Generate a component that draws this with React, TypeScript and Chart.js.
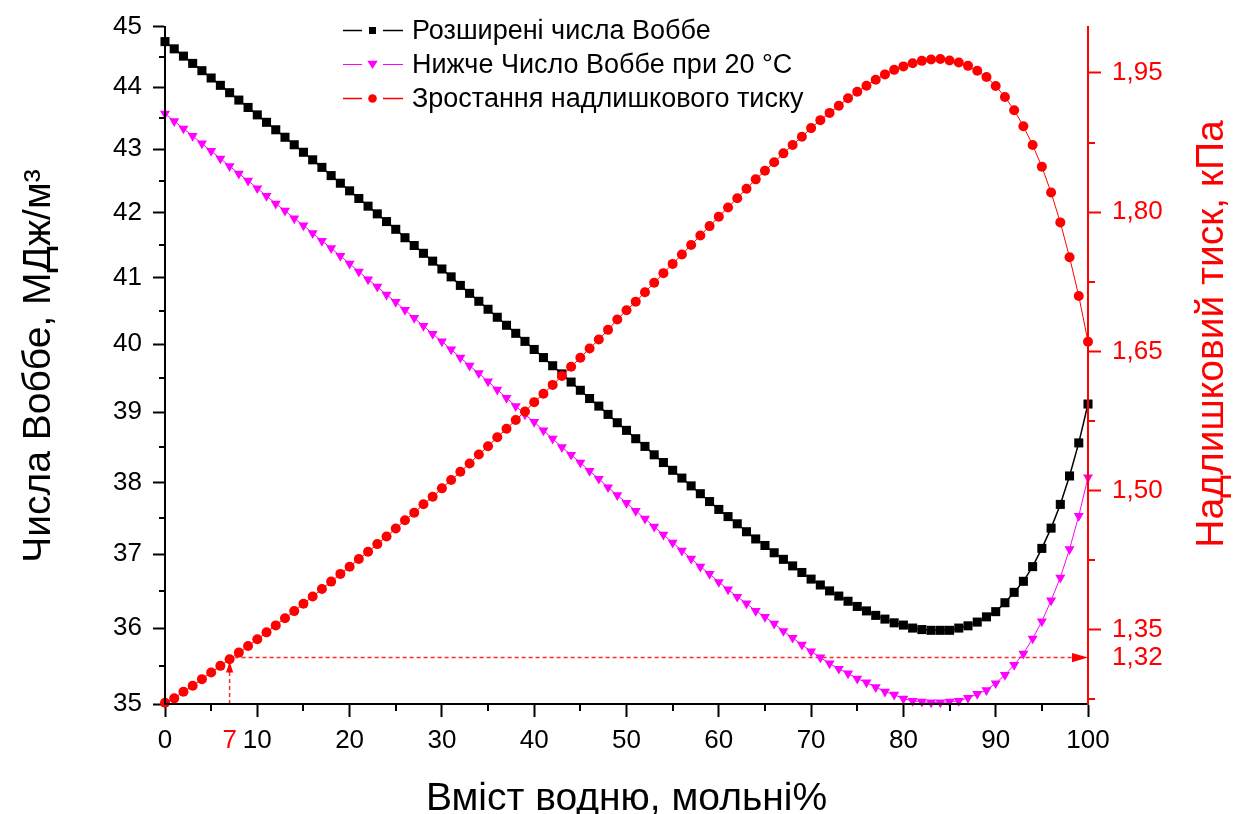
import { useEffect, useRef } from 'react';
import { Chart, registerables } from 'chart.js';
Chart.register(...registerables);

const FONT = '"Liberation Sans", Arial, Helvetica, sans-serif';

// вміст водню, мольні %
const hydrogen = [
  0, 1, 2, 3, 4, 5, 6, 7, 8, 9,
  10, 11, 12, 13, 14, 15, 16, 17, 18, 19,
  20, 21, 22, 23, 24, 25, 26, 27, 28, 29,
  30, 31, 32, 33, 34, 35, 36, 37, 38, 39,
  40, 41, 42, 43, 44, 45, 46, 47, 48, 49,
  50, 51, 52, 53, 54, 55, 56, 57, 58, 59,
  60, 61, 62, 63, 64, 65, 66, 67, 68, 69,
  70, 71, 72, 73, 74, 75, 76, 77, 78, 79,
  80, 81, 82, 83, 84, 85, 86, 87, 88, 89,
  90, 91, 92, 93, 94, 95, 96, 97, 98, 99,
  100,
];

// Розширені числа Воббе, МДж/м3
const wobbeExtended = [
  44.75, 44.63, 44.51, 44.39, 44.27, 44.15, 44.03, 43.91, 43.79, 43.67,
  43.55, 43.43, 43.31, 43.19, 43.07, 42.95, 42.83, 42.71, 42.58, 42.46,
  42.34, 42.22, 42.10, 41.98, 41.86, 41.74, 41.61, 41.49, 41.37, 41.25,
  41.13, 41.01, 40.88, 40.76, 40.64, 40.52, 40.40, 40.28, 40.16, 40.04,
  39.92, 39.80, 39.68, 39.56, 39.44, 39.32, 39.20, 39.09, 38.97, 38.85,
  38.74, 38.62, 38.51, 38.39, 38.28, 38.17, 38.06, 37.95, 37.84, 37.73,
  37.62, 37.52, 37.42, 37.31, 37.21, 37.12, 37.02, 36.93, 36.84, 36.75,
  36.66, 36.58, 36.50, 36.43, 36.36, 36.29, 36.23, 36.17, 36.12, 36.07,
  36.04, 36.00, 35.98, 35.97, 35.97, 35.97, 36.00, 36.03, 36.08, 36.15,
  36.22, 36.34, 36.48, 36.63, 36.83, 37.08, 37.36, 37.69, 38.09, 38.56,
  39.12,
];

// Нижче число Воббе при 20 °C, МДж/м3
const wobbeLower = [
  43.57, 43.45, 43.33, 43.21, 43.09, 42.97, 42.85, 42.73, 42.61, 42.50,
  42.38, 42.26, 42.14, 42.03, 41.91, 41.80, 41.68, 41.56, 41.45, 41.33,
  41.21, 41.09, 40.97, 40.86, 40.74, 40.63, 40.51, 40.39, 40.27, 40.15,
  40.04, 39.92, 39.80, 39.68, 39.57, 39.45, 39.33, 39.21, 39.09, 38.97,
  38.86, 38.74, 38.62, 38.50, 38.39, 38.28, 38.16, 38.05, 37.93, 37.82,
  37.71, 37.60, 37.49, 37.38, 37.27, 37.16, 37.05, 36.94, 36.83, 36.73,
  36.62, 36.52, 36.42, 36.33, 36.23, 36.15, 36.06, 35.96, 35.87, 35.78,
  35.69, 35.61, 35.53, 35.46, 35.40, 35.33, 35.28, 35.22, 35.16, 35.12,
  35.07, 35.04, 35.03, 35.02, 35.02, 35.03, 35.04, 35.08, 35.13, 35.18,
  35.27, 35.38, 35.51, 35.66, 35.86, 36.09, 36.37, 36.68, 37.07, 37.53,
  38.07,
];

// Зростання надлишкового тиску, кПа
const pressureRise = [
  1.2714, 1.2761, 1.2832, 1.2896, 1.2968, 1.3040, 1.3111, 1.3183, 1.3254, 1.3325,
  1.3397, 1.3472, 1.3547, 1.3625, 1.3701, 1.3780, 1.3858, 1.3939, 1.4019, 1.4102,
  1.4180, 1.4262, 1.4341, 1.4423, 1.4505, 1.4591, 1.4681, 1.4762, 1.4852, 1.4934,
  1.5024, 1.5113, 1.5202, 1.5292, 1.5388, 1.5478, 1.5574, 1.5667, 1.5760, 1.5853,
  1.5953, 1.6043, 1.6139, 1.6236, 1.6335, 1.6432, 1.6532, 1.6628, 1.6732, 1.6843,
  1.6943, 1.7036, 1.7137, 1.7239, 1.7343, 1.7443, 1.7544, 1.7647, 1.7748, 1.7850,
  1.7952, 1.8051, 1.8151, 1.8253, 1.8354, 1.8446, 1.8538, 1.8634, 1.8724, 1.8813,
  1.8906, 1.8992, 1.9070, 1.9148, 1.9228, 1.9298, 1.9363, 1.9427, 1.9485, 1.9534,
  1.9571, 1.9606, 1.9631, 1.9646, 1.9651, 1.9635, 1.9614, 1.9577, 1.9524, 1.9456,
  1.9360, 1.9242, 1.9099, 1.8927, 1.8724, 1.8491, 1.8212, 1.7890, 1.7515, 1.7097,
  1.6604,
];

const xTicks = [0, 7, 10, 20, 30, 40, 50, 60, 70, 80, 90, 100];
const xMinor = [5, 15, 25, 35, 45, 55, 65, 75, 85, 95];
const leftTicks = [35, 36, 37, 38, 39, 40, 41, 42, 43, 44, 45];
const leftMinor = [35.5, 36.5, 37.5, 38.5, 39.5, 40.5, 41.5, 42.5, 43.5, 44.5];
const rightTicks = [1.32, 1.35, 1.5, 1.65, 1.8, 1.95];
const rightMinor = [1.275, 1.425, 1.575, 1.725, 1.875];

// точка 7 % -> 1,32 кПа
const markX = 7;
const markP = 1.32;

const xTitle = 'Вміст водню, мольні%';
const leftTitle = 'Числа Воббе, МДж/м³';
const rightTitle = 'Надлишковий тиск, кПа';

const legendRows = [
  { label: 'Розширені числа Воббе', color: '#000000', line: 1.6, mark: 'rect' },
  { label: 'Нижче Число Воббе при 20 °C', color: '#ff00ff', line: 1.2, mark: 'tri' },
  { label: 'Зростання надлишкового тиску', color: '#ff0000', line: 1.4, mark: 'circle' },
];

const RED = '#ff0000';
const CLEAR = 'rgba(0,0,0,0)';
const TICK_FONT = { size: 26, family: FONT };

function drawMark(ctx: CanvasRenderingContext2D, mark: string, x: number, y: number) {
  ctx.beginPath();
  if (mark === 'rect') {
    ctx.rect(x - 3.5, y - 3.5, 7, 7);
  } else if (mark === 'tri') {
    ctx.moveTo(x - 5.2, y - 3.8);
    ctx.lineTo(x + 5.2, y - 3.8);
    ctx.lineTo(x, y + 4.4);
    ctx.closePath();
  } else {
    ctx.arc(x, y, 4.3, 0, Math.PI * 2);
  }
  ctx.fill();
}

const overlay = {
  id: 'overlay',
  beforeDatasetsDraw(chart: any) {
    const { ctx, chartArea, scales } = chart;
    const px = scales.x.getPixelForValue(markX);
    const py = scales.yP.getPixelForValue(markP);
    ctx.save();
    ctx.strokeStyle = '#ff2a2a';
    ctx.fillStyle = '#ff0000';
    ctx.lineWidth = 1.5;
    ctx.setLineDash([4, 3]);
    ctx.beginPath();
    ctx.moveTo(px, chartArea.bottom);
    ctx.lineTo(px, py + 14);
    ctx.stroke();
    ctx.beginPath();
    ctx.moveTo(px + 5, py);
    ctx.lineTo(chartArea.right - 15, py);
    ctx.stroke();
    ctx.setLineDash([]);
    ctx.beginPath();
    ctx.moveTo(px, py + 4);
    ctx.lineTo(px - 3.6, py + 15);
    ctx.lineTo(px + 3.6, py + 15);
    ctx.closePath();
    ctx.fill();
    ctx.beginPath();
    ctx.moveTo(chartArea.right, py);
    ctx.lineTo(chartArea.right - 16, py - 4.6);
    ctx.lineTo(chartArea.right - 16, py + 4.6);
    ctx.closePath();
    ctx.fill();
    ctx.restore();
  },
  afterDraw(chart: any) {
    const { ctx, chartArea, scales } = chart;
    const { left, right, bottom } = chartArea;
    ctx.save();

    // minor ticks
    ctx.lineWidth = 2;
    ctx.strokeStyle = '#000';
    ctx.beginPath();
    leftMinor.forEach((v) => {
      const y = Math.round(scales.yW.getPixelForValue(v));
      ctx.moveTo(left - 6, y);
      ctx.lineTo(left, y);
    });
    xMinor.forEach((v) => {
      const x = Math.round(scales.x.getPixelForValue(v));
      ctx.moveTo(x, bottom);
      ctx.lineTo(x, bottom + 7);
    });
    ctx.stroke();
    ctx.strokeStyle = RED;
    ctx.beginPath();
    rightMinor.forEach((v) => {
      const y = Math.round(scales.yP.getPixelForValue(v));
      ctx.moveTo(right, y);
      ctx.lineTo(right + 7, y);
    });
    ctx.stroke();

    // axis titles
    ctx.font = `39px ${FONT}`;
    ctx.textAlign = 'center';
    ctx.textBaseline = 'alphabetic';
    ctx.fillStyle = '#000';
    ctx.fillText(xTitle, (left + right) / 2, 810);

    ctx.save();
    ctx.translate(50, 366);
    ctx.rotate(-Math.PI / 2);
    ctx.fillText(leftTitle, 0, 0);
    ctx.restore();

    ctx.save();
    ctx.fillStyle = RED;
    ctx.translate(1223, 334);
    ctx.rotate(-Math.PI / 2);
    ctx.fillText(rightTitle, 0, 0);
    ctx.restore();

    // legend
    ctx.font = `27px ${FONT}`;
    ctx.textAlign = 'left';
    ctx.textBaseline = 'middle';
    legendRows.forEach((row, i) => {
      const y = 30.5 + i * 34;
      ctx.strokeStyle = row.color;
      ctx.fillStyle = row.color;
      ctx.lineWidth = row.line;
      ctx.beginPath();
      ctx.moveTo(343, y);
      ctx.lineTo(362, y);
      ctx.moveTo(383, y);
      ctx.lineTo(403, y);
      ctx.stroke();
      drawMark(ctx, row.mark, 372.5, y);
      ctx.fillStyle = '#000';
      ctx.fillText(row.label, 412, y + 1);
    });
    ctx.restore();
  },
};

export default function App() {
  const canvasRef = useRef<HTMLCanvasElement>(null);

  useEffect(() => {
    document.body.style.margin = '0';
    const points = (ys: number[]) => hydrogen.map((x, i) => ({ x, y: ys[i] }));

    const chart = new Chart(canvasRef.current!, {
      type: 'line',
      data: {
        datasets: [
          {
            label: legendRows[2].label,
            data: points(pressureRise),
            yAxisID: 'yP',
            borderColor: RED,
            backgroundColor: RED,
            borderWidth: 1,
            pointStyle: 'circle',
            pointRadius: 5,
            pointBorderWidth: 0,
            pointBackgroundColor: RED,
            clip: false,
            order: 0,
          },
          {
            label: legendRows[0].label,
            data: points(wobbeExtended),
            yAxisID: 'yW',
            borderColor: '#000',
            backgroundColor: '#000',
            borderWidth: 1.5,
            pointStyle: 'rect',
            pointRadius: 6.4,
            pointBorderWidth: 0,
            pointBackgroundColor: '#000',
            clip: false,
            order: 1,
          },
          {
            label: legendRows[1].label,
            data: points(wobbeLower),
            yAxisID: 'yW',
            borderColor: '#ff00ff',
            backgroundColor: '#ff00ff',
            borderWidth: 1,
            pointStyle: 'triangle',
            pointRotation: 180,
            pointRadius: 5.8,
            pointBorderWidth: 0,
            pointBackgroundColor: '#ff00ff',
            clip: false,
            order: 2,
          },
        ],
      } as any,
      options: {
        responsive: false,
        animation: false,
        events: [],
        layout: { padding: { top: 23, left: 0, right: 0, bottom: 0 } },
        plugins: { legend: { display: false }, tooltip: { enabled: false } },
        scales: {
          x: {
            type: 'linear',
            min: 0,
            max: 100,
            afterBuildTicks: (s: any) => { s.ticks = xTicks.map((value) => ({ value })); },
            afterFit: (s: any) => { s.height = 110; },
            grid: {
              drawOnChartArea: false,
              tickLength: 13,
              tickWidth: 2,
              tickColor: (c: any) => (c.tick && c.tick.value === markX ? CLEAR : '#000'),
            },
            border: { color: '#000', width: 2, z: 1 },
            ticks: {
              autoSkip: false,
              maxRotation: 0,
              padding: 8,
              color: (c: any) => (c.tick && c.tick.value === markX ? RED : '#000'),
              font: TICK_FONT,
              callback: (v: any) => String(v),
            },
          },
          yW: {
            type: 'logarithmic',
            position: 'left',
            min: 35,
            max: 45,
            afterBuildTicks: (s: any) => { s.ticks = leftTicks.map((value) => ({ value })); },
            afterFit: (s: any) => { s.width = 165; },
            grid: { drawOnChartArea: false, tickLength: 12, tickWidth: 2, tickColor: '#000' },
            border: { color: '#000', width: 2, z: 1 },
            ticks: {
              autoSkip: false,
              padding: 11,
              color: '#000',
              font: TICK_FONT,
              callback: (v: any) => String(v),
            },
          },
          yP: {
            type: 'linear',
            position: 'right',
            min: 1.27,
            max: 2.0,
            afterBuildTicks: (s: any) => { s.ticks = rightTicks.map((value) => ({ value })); },
            afterFit: (s: any) => { s.width = 147; },
            grid: {
              drawOnChartArea: false,
              tickLength: 13,
              tickWidth: 2,
              tickColor: (c: any) => (c.tick && c.tick.value === markP ? CLEAR : RED),
            },
            border: { color: RED, width: 2, z: 1 },
            ticks: {
              autoSkip: false,
              padding: 11,
              color: RED,
              font: TICK_FONT,
              callback: (v: any) => Number(v).toFixed(2).replace('.', ','),
            },
          },
        },
      } as any,
      plugins: [overlay],
    });

    return () => { chart.destroy(); };
  }, []);

  return (
    <div style={{ width: 1235, height: 814, background: '#fff' }}>
      <canvas ref={canvasRef} width={1235} height={814} />
    </div>
  );
}
